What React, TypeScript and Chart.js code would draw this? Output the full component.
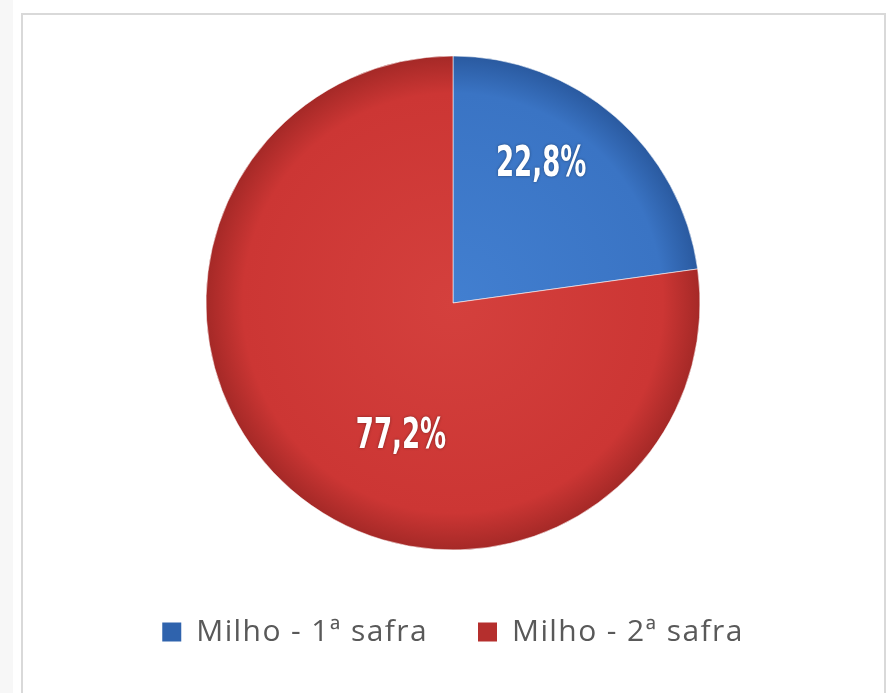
import React, { useEffect, useRef } from "react";
import { Chart, registerables } from "chart.js";
Chart.register(...registerables);

const categories = ["Milho - 1ª safra", "Milho - 2ª safra"];
const shares = [22.8, 77.2];
const valueLabels = ["22,8%", "77,2%"];
const baseColors = ["#3a74c4", "#cc3634"];
const innerColors = ["#427fd0", "#d4403d"];
const rimColors = ["#2a5aa0", "#a52927"];
const legendBoxColors = ["#2f63ad", "#b52f2d"];
const labelAngleOffsetsDeg = [-8.9, -19.6];
const labelRadiusFractions = [0.671, 0.576];

const PIE_RADIUS = 247;

const letterSpacingPlugin = {
  id: "legendLetterSpacing",
  beforeLayout(chart: any) {
    chart.ctx.letterSpacing = "1.4px";
  },
  beforeDraw(chart: any) {
    chart.ctx.letterSpacing = "1.4px";
  },
};

const sliceLabelPlugin = {
  id: "sliceLabels",
  afterDatasetsDraw(chart: any) {
    const meta = chart.getDatasetMeta(0);
    const ctx = chart.ctx;
    meta.data.forEach((arc: any, i: number) => {
      const { x, y, startAngle, endAngle, outerRadius } = arc.getProps(
        ["x", "y", "startAngle", "endAngle", "outerRadius"],
        true
      );
      const mid = (startAngle + endAngle) / 2 + (labelAngleOffsetsDeg[i] * Math.PI) / 180;
      const r = outerRadius * labelRadiusFractions[i];
      const lx = x + Math.cos(mid) * r;
      const ly = y + Math.sin(mid) * r;
      ctx.save();
      ctx.letterSpacing = "0px";
      ctx.translate(lx, ly);
      ctx.scale(0.62, 1);
      ctx.font = 'bold 42px "DejaVu Sans"';
      ctx.textAlign = "center";
      ctx.textBaseline = "middle";
      ctx.shadowColor = "rgba(0,0,0,0.4)";
      ctx.shadowBlur = 3;
      ctx.fillStyle = "#ffffff";
      ctx.fillText(valueLabels[i], 0, 2);
      ctx.restore();
    });
  },
};

function sliceFill(context: any) {
  const i = context.dataIndex;
  const chart = context.chart;
  const area = chart.chartArea;
  if (!area) return baseColors[i];
  const cx = (area.left + area.right) / 2;
  const cy = (area.top + area.bottom) / 2;
  const g = chart.ctx.createRadialGradient(cx, cy, 0, cx, cy, PIE_RADIUS);
  g.addColorStop(0, innerColors[i]);
  g.addColorStop(0.85, baseColors[i]);
  g.addColorStop(1, rimColors[i]);
  return g;
}

function PieChart() {
  const ref = useRef<HTMLCanvasElement | null>(null);
  useEffect(() => {
    if (!ref.current) return;
    const chart = new Chart(ref.current, {
      type: "pie",
      data: {
        labels: categories,
        datasets: [
          {
            data: shares,
            backgroundColor: sliceFill as any,
            borderColor: "rgba(255,255,255,0.55)",
            borderWidth: 1,
            radius: PIE_RADIUS,
          } as any,
        ],
      },
      options: {
        animation: false,
        responsive: false,
        layout: { padding: { left: 14, top: 39, bottom: 36 } },
        plugins: {
          tooltip: { enabled: false },
          legend: {
            position: "bottom",
            labels: {
              font: { family: "'Open Sans'", size: 30 },
              color: "#595959",
              boxWidth: 19,
              boxHeight: 19,
              padding: 50,
              generateLabels: () =>
                categories.map((c, i) => ({
                  text: c,
                  fillStyle: legendBoxColors[i],
                  strokeStyle: legendBoxColors[i],
                  lineWidth: 0,
                  hidden: false,
                  index: i,
                  fontColor: "#595959",
                })),
            },
          },
        },
      },
      plugins: [letterSpacingPlugin, sliceLabelPlugin],
    });
    return () => chart.destroy();
  }, []);
  return <canvas ref={ref} width={892} height={693} style={{ display: "block" }} />;
}

export default function App() {
  return (
    <div
      style={{
        position: "fixed",
        left: 0,
        top: 0,
        width: 892,
        height: 693,
        background: "#ffffff",
        overflow: "hidden",
      }}
    >
      <div
        style={{
          position: "absolute",
          left: 0,
          top: 0,
          width: 13,
          height: 693,
          background: "#f7f7f7",
        }}
      />
      <div
        style={{
          position: "absolute",
          left: 21,
          top: 13,
          width: 865,
          height: 700,
          border: "2px solid #d9d9d9",
          boxSizing: "border-box",
          background: "#ffffff",
        }}
      />
      <div style={{ position: "absolute", left: 0, top: 0, width: 892, height: 693 }}>
        <PieChart />
      </div>
    </div>
  );
}
